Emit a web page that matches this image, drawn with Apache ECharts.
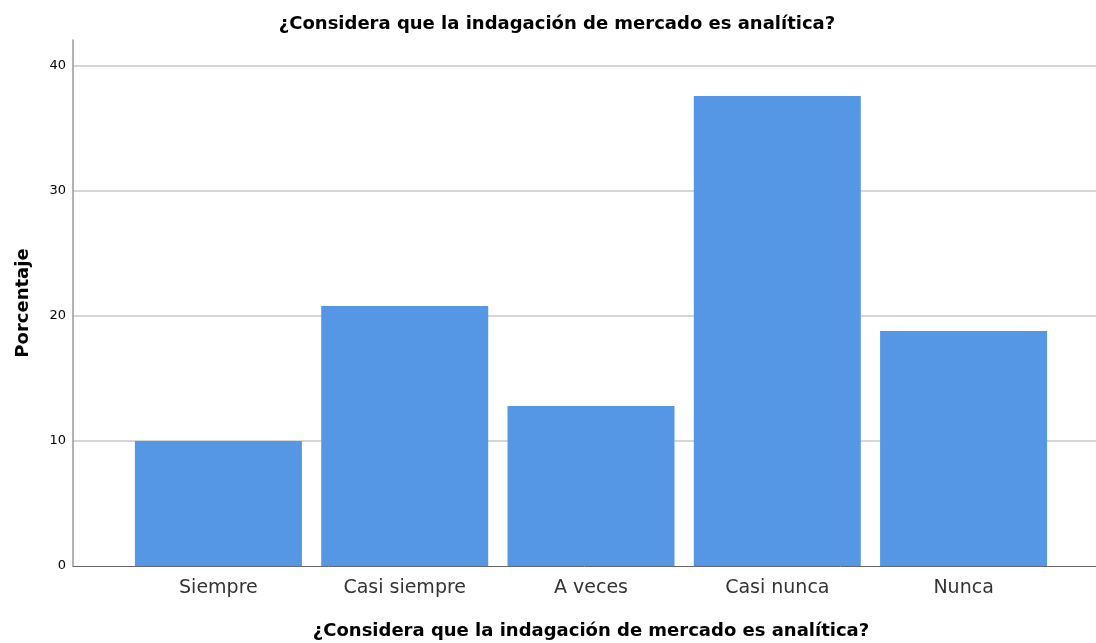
<!DOCTYPE html>
<html>
<head>
<meta charset="utf-8">
<script src="https://cdn.jsdelivr.net/npm/echarts@6/dist/echarts.min.js"></script>
<style>
  html, body { margin: 0; padding: 0; background: #fff; }
  #chart { width: 1096px; height: 643px; }
</style>
</head>
<body>
<div id="chart"></div>
<script>
var titulo = '¿Considera que la indagación de mercado es analítica?';
var categorias = ['Siempre', 'Casi siempre', 'A veces', 'Casi nunca', 'Nunca'];
var porcentajes = [10.0, 20.8, 12.8, 37.6, 18.8];
var yMax = 42.08;

var myChart = echarts.init(document.getElementById('chart'));

// grid 0 carries axis lines and gridlines, grid 1 carries the bars
var option = {
    backgroundColor: '#fff',
    animation: false,
    title: {
        text: titulo,
        left: 552,
        top: 10,
        textAlign: 'center',
        textStyle: { fontFamily: 'DejaVu Sans', fontSize: 18, fontWeight: 'bold', color: '#000' }
    },
    grid: [
        { left: 73, right: 0, top: 40, bottom: 77, outerBoundsMode: 'none', containLabel: false },
        { left: 125.25, right: 39.25, top: 40, bottom: 77, outerBoundsMode: 'none', containLabel: false }
    ],
    xAxis: [
        {
            gridIndex: 0, type: 'value', min: 0, max: 1,
            axisLine: { show: true, lineStyle: { color: '#666', width: 1 } },
            axisTick: { show: false }, axisLabel: { show: false }, splitLine: { show: false }
        },
        {
            gridIndex: 1, type: 'category', data: categorias,
            axisLine: { show: false }, axisTick: { show: false },
            axisLabel: { fontFamily: 'DejaVu Sans', fontSize: 19, color: '#333', margin: 13 },
            name: titulo, nameLocation: 'middle', nameGap: 56,
            nameTextStyle: { fontFamily: 'DejaVu Sans', fontSize: 18, fontWeight: 'bold', color: '#000' }
        }
    ],
    yAxis: [
        {
            gridIndex: 0, type: 'value', min: 0, max: yMax, interval: 10,
            axisLine: { show: true, lineStyle: { color: '#999', width: 1.5 } },
            axisTick: { show: false },
            axisLabel: { fontFamily: 'DejaVu Sans', fontSize: 13, color: '#000', margin: 7, showMaxLabel: false },
            splitLine: { show: true, showMinLine: false, showMaxLine: false, lineStyle: { color: '#c8c8c8', width: 1.5 } },
            name: 'Porcentaje', nameLocation: 'middle', nameGap: 41,
            nameTextStyle: { fontFamily: 'DejaVu Sans', fontSize: 18, fontWeight: 'bold', color: '#000' }
        },
        {
            gridIndex: 1, type: 'value', min: 0, max: yMax, show: false,
            splitLine: { show: false }
        }
    ],
    series: [
        {
            type: 'bar',
            xAxisIndex: 1, yAxisIndex: 1,
            data: porcentajes,
            barWidth: 167,
            itemStyle: { color: '#5596e5', borderWidth: 0 }
        }
    ]
};

myChart.setOption(option);
</script>
</body>
</html>
